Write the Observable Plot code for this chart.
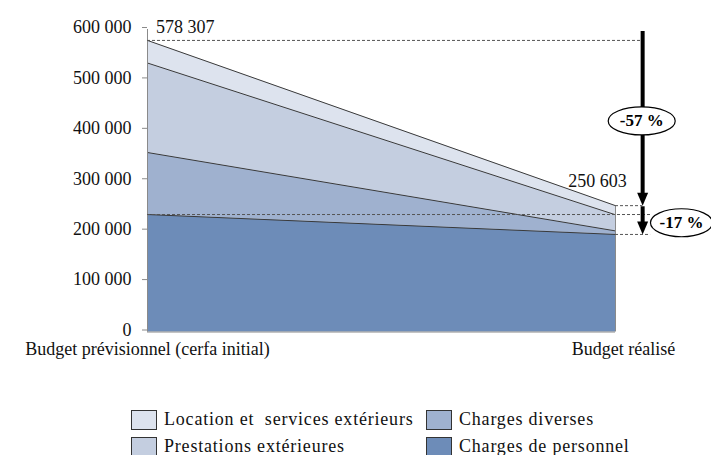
<!DOCTYPE html>
<html>
<head>
<meta charset="utf-8">
<script src="https://cdn.jsdelivr.net/npm/d3@7"></script>
<script src="https://cdn.jsdelivr.net/npm/@observablehq/plot@0.6"></script>
<style>
  html, body { margin: 0; padding: 0; background: #fff; }
  body { width: 711px; height: 455px; overflow: hidden; font-family: "Liberation Serif", serif; }
  #chart svg { display: block; }
  svg, svg text, svg g { font-family: "Liberation Serif", serif !important; }
  g[aria-label="label-left"] text { letter-spacing: 0.9px; }
  g[aria-label="label-right"] text { letter-spacing: 1.8px; }
  #legend { position: relative; height: 75px; font-size: 18px; color: #111; letter-spacing: 0.8px; }
  .item { position: absolute; display: flex; align-items: center; white-space: pre; }
  .sw { width: 26px; height: 20px; border: 1.5px solid #333; box-sizing: border-box; margin-right: 7px; }
</style>
</head>
<body>
<div id="chart"></div>
<div id="legend"></div>
<script>
// Categories (stack order, bottom to top)
const categories = ["Charges de personnel", "Charges diverses", "Prestations extérieures", "Location et  services extérieurs"];
const budgets = ["Budget prévisionnel (cerfa initial)", "Budget réalisé"];
// Series values per budget (prévisionnel, réalisé)
const chargesPersonnel = [233000, 193500];
const chargesDiverses = [123000, 7000];
const prestationsExt = [177500, 32000];
const locationServices = [44807, 18103];
const totals = [578307, 250603];
const colors = ["#6d8cb8", "#9fb1cf", "#c4cee0", "#dde3ee"];
const yTicks = [0, 100000, 200000, 300000, 400000, 500000, 600000];
const pctLabels = ["-57 %", "-17 %"];

const series = [chargesPersonnel, chargesDiverses, prestationsExt, locationServices];
const data = [];
categories.forEach((c, k) => budgets.forEach((b, i) => data.push({i, cat: c, value: series[k][i]})));

const fmt = v => v === 0 ? "0" : d3.format(",")(v).replace(/,/g, " ");

// annotation geometry in data space
const xArrow = 1.058, xEnd = 1.075, xEll2 = 1.141, xEll1 = 1.056;
const lvlPersonnelStart = chargesPersonnel[0];
const lvlPersonnelEnd = chargesPersonnel[1];

const ellipse = (rx, ry) => ({
  draw(ctx) {
    const k = 0.5523;
    ctx.moveTo(rx, 0);
    ctx.bezierCurveTo(rx, ry * k, rx * k, ry, 0, ry);
    ctx.bezierCurveTo(-rx * k, ry, -rx, ry * k, -rx, 0);
    ctx.bezierCurveTo(-rx, -ry * k, -rx * k, -ry, 0, -ry);
    ctx.bezierCurveTo(rx * k, -ry, rx, -ry * k, rx, 0);
    ctx.closePath();
  }
});
const head = {
  draw(ctx) { ctx.moveTo(-5.5, -13); ctx.lineTo(5.5, -13); ctx.lineTo(0, 0); ctx.closePath(); }
};

const arrows = [
  {x: xArrow, y1: totals[0], y2: totals[1]},
  {x: xArrow, y1: lvlPersonnelStart - 2500, y2: lvlPersonnelEnd}
];
const ells = [
  {x: xEll1, y: 418600, label: pctLabels[0]},
  {x: xEll2, y: 216700, label: pctLabels[1]}
];

const chart = Plot.plot({
  width: 711,
  height: 380,
  marginLeft: 147,
  marginRight: 96,
  marginTop: 29,
  marginBottom: 48.5,
  style: {fontFamily: "'Liberation Serif', serif", fontSize: "18px", color: "#111", background: "#fff"},
  x: {domain: [0, 1], axis: null},
  y: {domain: [0, 600000]},
  color: {domain: categories, range: colors},
  marks: [
    Plot.areaY(data, {x: "i", y: "value", z: "cat", fill: "cat", order: categories}),
    Plot.lineY(data, Plot.stackY2({x: "i", y: "value", z: "cat", order: categories, stroke: "#3a3a3a", strokeWidth: 1})),
    Plot.ruleX([1], {y1: 0, y2: totals[1], stroke: "#8a8a8a", strokeWidth: 1}),
    Plot.ruleX([0], {y1: 0, y2: 600000, stroke: "#8a8a8a", strokeWidth: 1}),
    Plot.ruleY([0], {x1: 0, x2: 1, stroke: "#8a8a8a", strokeWidth: 1}),
    Plot.axisY({ticks: yTicks, tickFormat: fmt, tickSize: 5, tickPadding: 11, stroke: "#8a8a8a", fill: "#111", fontSize: 18, dy: -2}),
    // category labels
    Plot.text([budgets[0]], {x: 0, y: 0, text: d => d, lineAnchor: "top", dy: 10, fontSize: 18, fill: "#111", ariaLabel: "label-left"}),
    Plot.text([budgets[1]], {x: 1, y: 0, text: d => d, lineAnchor: "top", dy: 10, dx: 8, fontSize: 18, fill: "#111", ariaLabel: "label-right"}),
    // dashed reference lines
    Plot.ruleY([totals[0]], {x1: 0, x2: xArrow, stroke: "#555", strokeWidth: 1, strokeDasharray: "3,2"}),
    Plot.ruleY([totals[1]], {x1: 1, x2: xArrow, stroke: "#555", strokeWidth: 1, strokeDasharray: "3,2"}),
    Plot.ruleY([lvlPersonnelStart], {x1: 0, x2: xEnd, stroke: "#555", strokeWidth: 1, strokeDasharray: "3,2"}),
    Plot.ruleY([lvlPersonnelEnd], {x1: 1, x2: xEnd, stroke: "#555", strokeWidth: 1, strokeDasharray: "3,2"}),
    // arrows
    Plot.ruleX(arrows, {x: "x", y1: "y1", y2: "y2", stroke: "#000", strokeWidth: 4, dy: -9}),
    Plot.dot(arrows, {x: "x", y: "y2", symbol: head, r: 5, fill: "#000", stroke: "none"}),
    // ellipses
    Plot.dot([ells[0]], {x: "x", y: "y", symbol: ellipse(33.5, 14), r: 5, fill: "#fff", stroke: "#000", strokeWidth: 1.2}),
    Plot.dot([ells[1]], {x: "x", y: "y", symbol: ellipse(31, 14), r: 5, fill: "#fff", stroke: "#000", strokeWidth: 1.2}),
    Plot.text(ells, {x: "x", y: "y", text: "label", fontWeight: "bold", fontSize: 17, fill: "#000"}),
    // value labels
    Plot.text([totals[0]], {x: 0, y: d => d, text: fmt, textAnchor: "start", dx: 8.5, dy: -13.5, fontSize: 18, fill: "#111"}),
    Plot.text([totals[1]], {x: 1, y: d => d, text: fmt, textAnchor: "middle", dx: -18, dy: -24, fontSize: 18, fill: "#111"})
  ]
});
document.getElementById("chart").appendChild(chart);

// legend
const legend = document.getElementById("legend");
const layout = [
  {k: 3, left: 131, top: 29},
  {k: 1, left: 426, top: 29},
  {k: 2, left: 131, top: 56},
  {k: 0, left: 426, top: 56}
];
layout.forEach(({k, left, top}) => {
  const it = document.createElement("div");
  it.className = "item";
  it.style.left = left + "px";
  it.style.top = top + "px";
  const sw = document.createElement("span");
  sw.className = "sw";
  sw.style.background = colors[k];
  const tx = document.createElement("span");
  tx.textContent = categories[k];
  it.appendChild(sw);
  it.appendChild(tx);
  legend.appendChild(it);
});
</script>
</body>
</html>
